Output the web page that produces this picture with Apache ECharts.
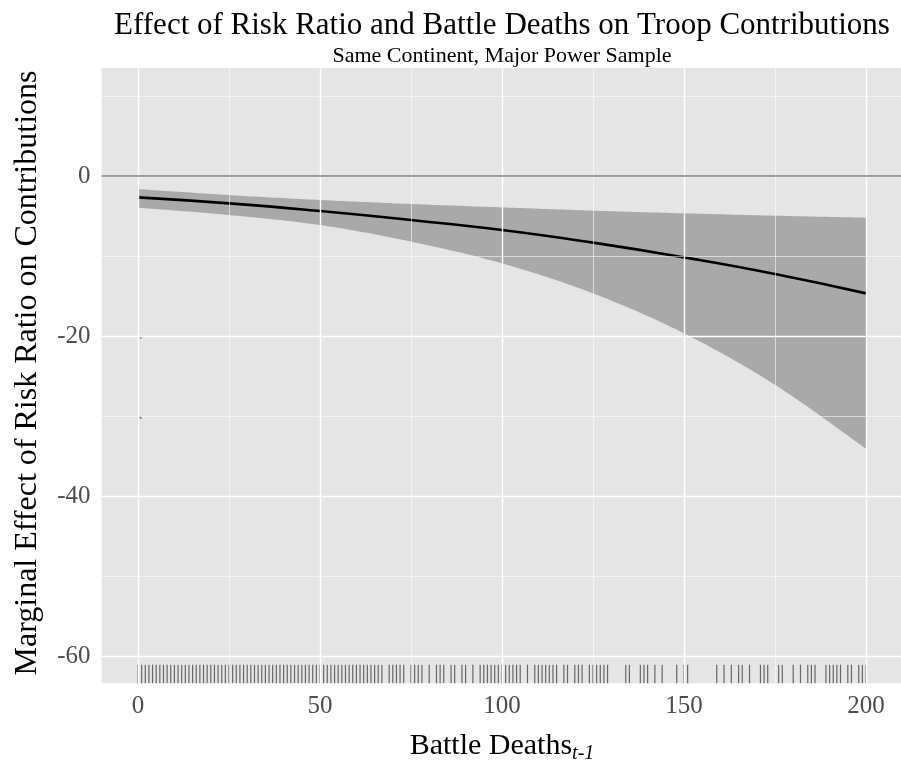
<!DOCTYPE html>
<html>
<head>
<meta charset="utf-8">
<script src="https://cdn.jsdelivr.net/npm/echarts@6/dist/echarts.min.js"></script>
<style>
  html, body { margin: 0; padding: 0; background: #ffffff; }
  #chart { width: 901px; height: 761px; }
</style>
</head>
<body>
<div id="chart"></div>
<script>
// Marginal effect of the risk ratio across battle deaths (t-1), with 95% band
const battleDeaths = [0, 25, 50, 75, 100, 125, 150, 175, 200];
const effect  = [-2.67, -3.42, -4.38, -5.50, -6.75, -8.33, -10.17, -12.25, -14.67];
const upperCI = [-1.63, -2.38, -3.00, -3.50, -3.92, -4.33, -4.67, -4.96, -5.21];
const lowerCI = [-3.96, -4.88, -6.13, -8.20, -10.92, -14.67, -19.67, -26.10, -34.10];

// Observed battle-death values shown as a rug along the bottom
const rugDeaths = [
  0, 1, 2, 3, 4, 5, 6, 7, 8, 9, 10, 11, 12, 13, 14, 15, 16, 17, 18, 19,
  20, 21, 22, 23, 24, 25, 26, 27, 28, 29, 30, 31, 32, 33, 34, 35, 36, 37, 38, 39,
  40, 41, 42, 43, 44, 45, 46, 47, 48, 49, 50, 51, 52, 53, 54, 55, 56, 57, 58, 59,
  60, 61, 62, 63, 64, 65, 66, 67, 69, 70, 71, 72, 73, 75, 76, 77, 78,
  80, 82, 83, 84, 86, 87, 89, 90, 92, 94, 95, 96, 97, 98, 99, 100,
  101, 102, 103, 104, 105, 107, 109, 110, 111, 112, 113, 114, 115, 117, 118,
  120, 121, 122, 124, 125, 126, 127, 128, 129, 134, 135, 138, 139, 140, 142, 144,
  148, 150, 151, 159, 161, 163, 165, 166, 168, 171, 172, 173, 176, 177, 180,
  182, 184, 185, 186, 189, 190, 191, 192, 193, 195, 196, 198, 199, 200
];

// Two stray marks near the left edge of the panel
const strayPoints = [[0.7, -20.2], [0.7, -30.2]];

// Axis breaks
const xTicks = [0, 50, 100, 150, 200];
const xMinor = [25, 75, 125, 175];
const yTicks = [-60, -40, -20, 0];
const yMinor = [-50, -30, -10, 10];

const X_MIN = -10, X_MAX = 210;
const Y_MIN = -63.4, Y_MAX = 13.5;

const SERIF = '"Liberation Serif", "Times New Roman", serif';
const TICK_GREY = '#4d4d4d';

// Catmull-Rom pass through pixel points, returning a dense polyline for drawing
function smoothPixels(pts, steps) {
  const out = [];
  const n = pts.length;
  for (let i = 0; i < n - 1; i++) {
    const p0 = pts[Math.max(i - 1, 0)], p1 = pts[i], p2 = pts[i + 1], p3 = pts[Math.min(i + 2, n - 1)];
    for (let s = 0; s < steps; s++) {
      const t = s / steps, t2 = t * t, t3 = t2 * t;
      const f = k => 0.5 * ((2 * p1[k]) + (-p0[k] + p2[k]) * t +
        (2 * p0[k] - 5 * p1[k] + 4 * p2[k] - p3[k]) * t2 +
        (-p0[k] + 3 * p1[k] - 3 * p2[k] + p3[k]) * t3);
      out.push([f(0), f(1)]);
    }
  }
  out.push(pts[n - 1]);
  return out;
}

const chart = echarts.init(document.getElementById('chart'), null, { renderer: 'canvas' });

const gridLines = [].concat(
  xTicks.map(v => ({ xAxis: v, lineStyle: { color: '#ffffff', width: 1.4, type: 'solid' } })),
  xMinor.map(v => ({ xAxis: v, lineStyle: { color: '#ffffff', width: 0.7, type: 'solid', opacity: 0.8 } })),
  yTicks.map(v => ({ yAxis: v, lineStyle: { color: '#ffffff', width: 1.4, type: 'solid' } })),
  yMinor.map(v => ({ yAxis: v, lineStyle: { color: '#ffffff', width: 0.7, type: 'solid', opacity: 0.8 } }))
);

const option = {
  animation: false,
  backgroundColor: '#ffffff',
  grid: {
    left: 101.6, right: -1.4, top: 68, bottom: 77.8,
    show: true, backgroundColor: '#e5e5e5', borderWidth: 0,
    containLabel: false, outerBoundsMode: 'none'
  },
  xAxis: {
    type: 'value', min: X_MIN, max: X_MAX,
    axisLine: { show: false },
    axisTick: { show: true, customValues: xTicks, length: 7, lineStyle: { color: TICK_GREY, width: 1 } },
    axisLabel: { customValues: xTicks, color: TICK_GREY, fontFamily: SERIF, fontSize: 25, margin: 11 },
    splitLine: { show: false }
  },
  yAxis: {
    type: 'value', min: Y_MIN, max: Y_MAX,
    axisLine: { show: false },
    axisTick: { show: true, customValues: yTicks, length: 7, lineStyle: { color: TICK_GREY, width: 1 } },
    axisLabel: { customValues: yTicks, color: TICK_GREY, fontFamily: SERIF, fontSize: 25, margin: 11 },
    splitLine: { show: false }
  },
  graphic: [
    {
      type: 'text', x: 502, y: 26, silent: true,
      style: { text: 'Effect of Risk Ratio and Battle Deaths on Troop Contributions',
               font: '31px ' + SERIF, fill: '#000', align: 'center', verticalAlign: 'middle' }
    },
    {
      type: 'text', x: 502, y: 56, silent: true,
      style: { text: 'Same Continent, Major Power Sample',
               font: '22px ' + SERIF, fill: '#000', align: 'center', verticalAlign: 'middle' }
    },
    {
      type: 'text', x: 502, y: 746, silent: true,
      style: {
        text: '{a|Battle Deaths}{b|t-1}',
        align: 'center', verticalAlign: 'middle',
        rich: {
          a: { fontFamily: SERIF, fontSize: 30, lineHeight: 36, fill: '#000', color: '#000' },
          b: { fontFamily: SERIF, fontSize: 20, fontStyle: 'italic', lineHeight: 20,
               verticalAlign: 'bottom', fill: '#000', color: '#000' }
        }
      }
    },
    {
      type: 'text', x: 28, y: 373, rotation: Math.PI / 2, silent: true,
      style: { text: 'Marginal Effect of Risk Ratio on Contributions',
               font: '32px ' + SERIF, fill: '#000', align: 'center', verticalAlign: 'middle' }
    }
  ],
  series: [
    {
      // panel grid lines
      type: 'line', data: [], z: 1, silent: true,
      markLine: { symbol: ['none', 'none'], silent: true, label: { show: false }, animation: false, data: gridLines }
    },
    {
      // confidence band between the lower and upper bounds
      type: 'custom', z: 2, silent: true,
      data: [[battleDeaths[0], upperCI[0]]],
      encode: { x: 0, y: 1 },
      renderItem: function (params, api) {
        const up = battleDeaths.map((x, i) => api.coord([x, upperCI[i]]));
        const lo = battleDeaths.map((x, i) => api.coord([x, lowerCI[i]]));
        const top = smoothPixels(up, 24);
        const bottom = smoothPixels(lo, 24).reverse();
        return {
          type: 'polygon',
          shape: { points: top.concat(bottom) },
          style: { fill: 'rgba(160,160,160,0.88)', stroke: null }
        };
      }
    },
    {
      // point estimate
      type: 'line', z: 4, smooth: true, symbol: 'none', silent: true,
      lineStyle: { color: '#000000', width: 2.6 },
      data: battleDeaths.map((x, i) => [x, effect[i]]),
      markLine: {
        symbol: ['none', 'none'], silent: true, label: { show: false }, animation: false,
        data: [{ yAxis: 0, lineStyle: { color: '#7f7f7f', width: 1.6, type: 'solid' } }]
      }
    },
    {
      type: 'scatter', z: 3, silent: true, symbol: 'rect', symbolSize: 2,
      itemStyle: { color: '#555555' },
      data: strayPoints
    },
    {
      // rug of observed values along the bottom of the panel
      type: 'custom', z: 3, silent: true,
      data: rugDeaths.map(v => [v, Y_MIN]),
      encode: { x: 0, y: 1 },
      renderItem: function (params, api) {
        const p = api.coord([api.value(0), api.value(1)]);
        return {
          type: 'line',
          shape: { x1: p[0], y1: p[1], x2: p[0], y2: p[1] - 18.5 },
          style: { stroke: 'rgba(0,0,0,0.55)', lineWidth: 1.2 }
        };
      }
    }
  ]
};

chart.setOption(option);
</script>
</body>
</html>
